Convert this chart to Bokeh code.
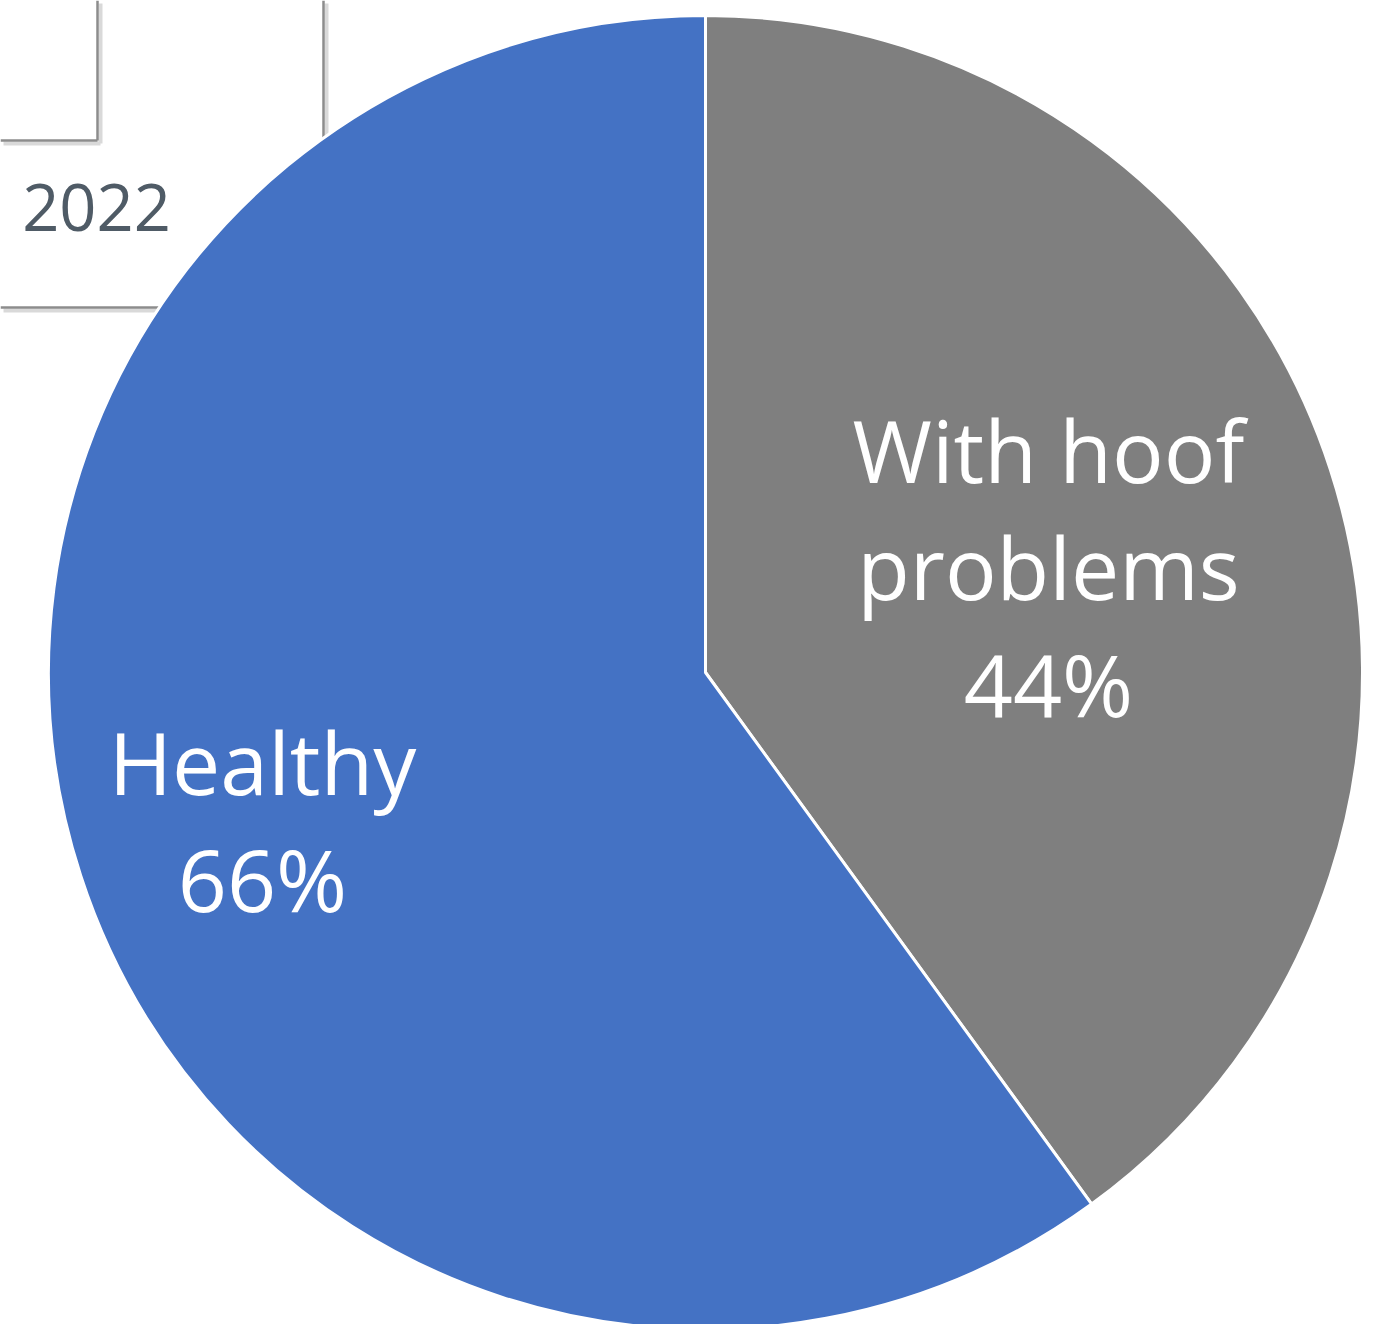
import math
from bokeh.plotting import figure
from bokeh.models import Range1d, ColumnDataSource
from bokeh.core.properties import value
from bokeh.embed import file_html
from bokeh.resources import INLINE

# ---- data ----
categories = ["With hoof\nproblems", "Healthy"]
percents = [44, 66]
colors = ["#7F7F7F", "#4472C4"]
background_label = "2022"

W, H = 1393, 1324
p = figure(width=W, height=H, output_backend="svg", toolbar_location=None,
           x_range=Range1d(0, W), y_range=Range1d(0, H),
           min_border=0)
p.axis.visible = False
p.grid.visible = False
p.outline_line_color = None
p.background_fill_color = "white"
p.border_fill_color = "white"

def sy(y):
    return 1324 - y

# background remnants (a cropped table behind the pie)
seg_x0 = [97, 0, 323, 0]
seg_y0 = [sy(0), sy(140), sy(0), sy(307)]
seg_x1 = [97, 97, 323, 200]
seg_y1 = [sy(140), sy(140), sy(200), sy(307)]
p.segment([x + 3 for x in seg_x0], [y - 3 for y in seg_y0],
          [x + 3 for x in seg_x1], [y - 3 for y in seg_y1],
          line_color="#d9d9d9", line_width=4)
p.segment(seg_x0, seg_y0, seg_x1, seg_y1, line_color="#8c8c8c", line_width=2.5)
p.text(x=[96], y=[sy(207)], text=[background_label], text_align="center",
       text_baseline="middle", text_font=value("Open Sans"),
       text_font_size="65px", text_color="#4f5b66")

# ---- pie ----
cx, cy, r = 705, sy(672), 657
total = sum(percents)
starts, ends = [], []
a = math.pi / 2
for v in percents:
    span = 2 * math.pi * v / total
    ends.append(a)
    starts.append(a - span)
    a -= span

src = ColumnDataSource(dict(start=starts, end=ends, color=colors,
                            label=[f"{c}\n{v}%" for c, v in zip(categories, percents)],
                            lx=[1048, 262], ly=[sy(566), sy(819)]))
p.wedge(x=cx, y=cy, radius=r, start_angle="start", end_angle="end",
        fill_color="color", line_color="white", line_width=3, source=src)
p.text(x="lx", y="ly", text="label", source=src, text_align="center",
       text_baseline="middle", text_font=value("Open Sans"),
       text_font_size="86px", text_color="white", text_line_height=1.0)

open("out.html", "w").write(file_html(p, INLINE))
